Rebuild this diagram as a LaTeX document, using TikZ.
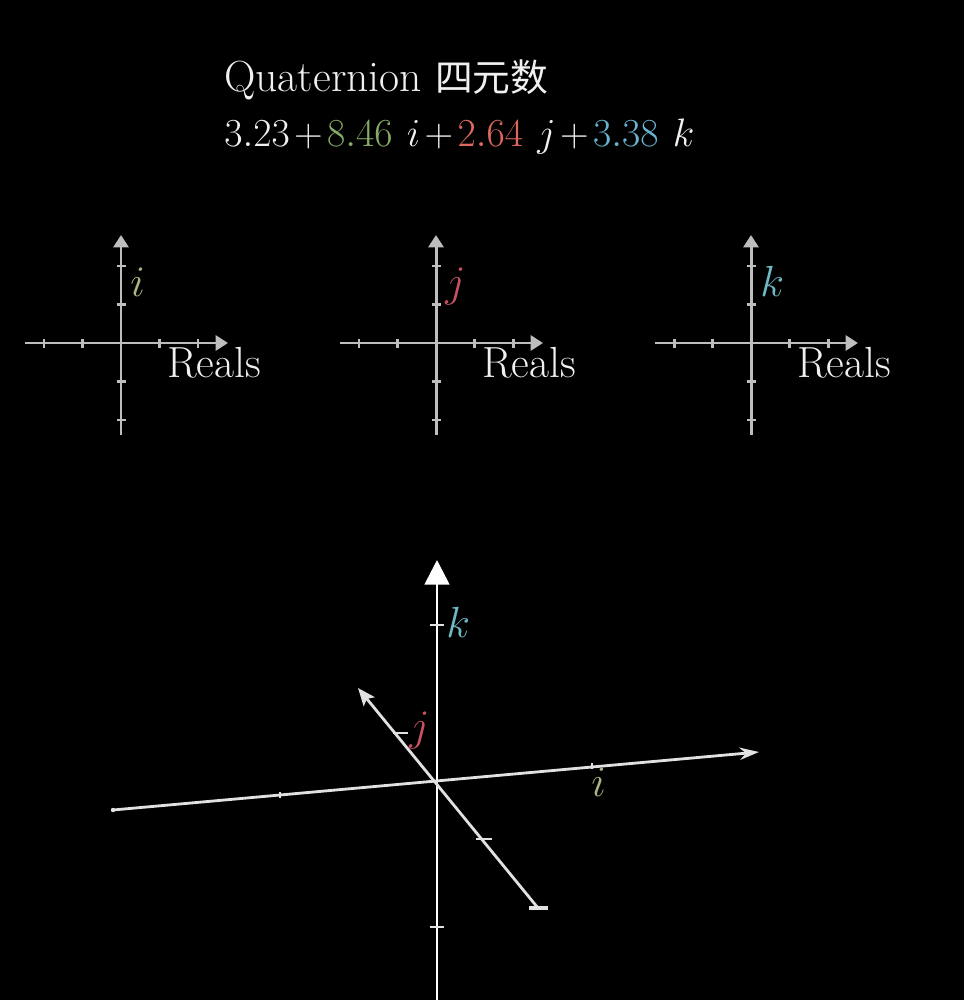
\IfFileExists{fix-cm.sty}{\RequirePackage{fix-cm}}{}
\documentclass[tikz,border=0pt]{standalone}
\usepackage{fontspec}
\newfontfamily\cjk{Noto Sans CJK SC}
\usetikzlibrary{arrows.meta}
\definecolor{axgray}{RGB}{190,190,190}
\definecolor{axwhite}{RGB}{225,225,225}
\definecolor{txt}{RGB}{240,240,240}
\definecolor{qgreen}{RGB}{135,170,100}
\definecolor{qred}{RGB}{222,104,94}
\definecolor{qblue}{RGB}{104,180,208}
\definecolor{ilab}{RGB}{172,180,128}
\definecolor{jlab}{RGB}{200,82,100}
\definecolor{klab}{RGB}{110,185,195}
\newcommand{\qplus}{\mkern2mu{+}\mkern2mu}
\begin{document}
\begin{tikzpicture}[x=0.02cm,y=-0.02cm,
  lbl/.style={text=txt, inner sep=0pt, font=\fontsize{24.8}{29}\selectfont},
  ax2/.style={draw=axgray, line width=1.7pt},
  tip2/.style={-{Triangle[length=7pt,width=8.5pt]}},
  tk2/.style={draw=axgray, line width=1.7pt},
  ax3/.style={draw=axwhite, line width=1.6pt},
  tk3/.style={draw=axwhite, line width=1.5pt}]
\fill[black] (0,0) rectangle (964,1000);
\useasboundingbox (0,0) rectangle (964,1000);

% title
\node[lbl, anchor=base west] (title) at (224,92) {Quaternion {\cjk\fontsize{21.5}{26}\selectfont 四元数}};
\node[lbl, anchor=base west, font=\fontsize{22.6}{27}\selectfont] (formula) at (224,147)
  {$3.23\qplus\textcolor{qgreen}{8.46}\mkern6.5mu i\qplus\textcolor{qred}{2.64}\mkern6.5mu j\qplus\textcolor{qblue}{3.38}\mkern6.5mu k$};

% three planes
\foreach \cx/\lab/\col in {121/i/ilab, 436/j/jlab, 751/k/klab}{
  \begin{scope}[shift={(\cx,343)}]
    \coordinate (h\lab-l) at (-96,0);
    \coordinate (h\lab-r) at (107,0);
    \coordinate (v\lab-b) at (0,92);
    \coordinate (v\lab-t) at (0,-108);
    \draw[ax2, tip2] (h\lab-l) -- (h\lab-r);
    \draw[ax2, tip2] (v\lab-b) -- (v\lab-t);
    \foreach \t in {-77,-38.5,38.5,77}{
      \draw[tk2] (\t,-4.5) -- (\t,4.5);
      \draw[tk2] (-4.5,\t) -- (4.5,\t);
    }
    \node[lbl, anchor=base west, text=\col] (lab\lab) at (9,-47) {$\lab$};
    \node[lbl, anchor=base west] (reals\lab) at (46,34) {Reals};
  \end{scope}
}

% 3D axes
\coordinate (O) at (437,780);
\coordinate (kb) at (437,1002);
\coordinate (kt) at (437,560);
\coordinate (il) at (113,810);
\coordinate (ir) at (759,752);
\coordinate (jb) at (538,908);
\coordinate (jt) at (358,688);

\draw[ax3, -{Triangle[length=14pt,width=14pt]}, draw=white] (kb) -- (kt);
\draw[ax3, -{Stealth[length=11pt,width=7pt]}] (il) -- (ir);
\draw[ax3, -{Stealth[length=10pt,width=8pt,inset=2pt]}] (jb) -- (jt);
\fill[axwhite] (il) circle (2.2);

% ticks
\draw[tk3] (430,625) -- (444,625);
\draw[tk3] (430,927) -- (444,927);
\draw[tk3] (280,792) -- (280,798);
\draw[tk3] (592,763) -- (592,769);
\draw[tk3] (393,733) -- (408,733);
\draw[tk3] (476,839) -- (492,839);
\draw[tk3, line width=2pt] (529,908) -- (548,908);

% 3D labels
\node[lbl, anchor=base west, text=klab] (k3) at (446,637) {$k$};
\node[lbl, anchor=base west, text=jlab] (j3) at (409,740) {$j$};
\node[lbl, anchor=base west, text=ilab] (i3) at (591,796) {$i$};
\end{tikzpicture}
\end{document}
